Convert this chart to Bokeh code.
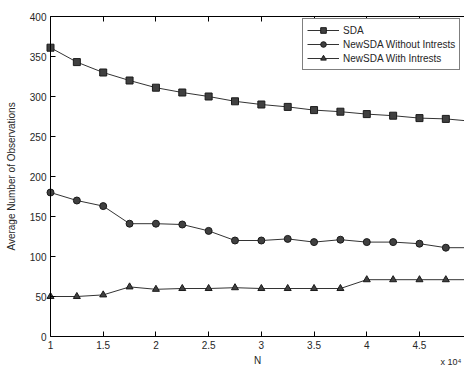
from bokeh.plotting import figure
from bokeh.models import (Range1d, LinearAxis, FixedTicker, Legend, LegendItem, Label,
                          CustomJSTickFormatter)
from bokeh.embed import file_html
from bokeh.resources import INLINE

# ---- data ----
n_vals = [1, 1.25, 1.5, 1.75, 2, 2.25, 2.5, 2.75, 3, 3.25, 3.5, 3.75, 4, 4.25, 4.5, 4.75, 5]
sda = [361, 343, 330, 320, 311, 305, 300, 294, 290, 287, 283, 281, 278, 276, 273, 272, 269]
new_without = [180, 170, 163, 141, 141, 140, 132, 120, 120, 122, 118, 121, 118, 118, 116, 111, 111]
new_with = [50, 50, 52, 62, 59, 60, 60, 61, 60, 60, 60, 60, 71, 71, 71, 71, 71]
x_ticks = [1, 1.5, 2, 2.5, 3, 3.5, 4, 4.5, 5]
y_ticks = [0, 50, 100, 150, 200, 250, 300, 350, 400]

FONT = "Liberation Sans"
TXT = "#262626"

p = figure(width=464, height=367, output_backend="svg", toolbar_location=None,
           x_range=Range1d(0.5257, 4.927), y_range=Range1d(-38.75, 420),
           min_border_left=0, min_border_right=0, min_border_top=0, min_border_bottom=0,
           x_axis_label="N", y_axis_label="Average Number of Observations")
p.outline_line_color = None
p.xgrid.visible = False
p.ygrid.visible = False
p.background_fill_color = "white"
p.border_fill_color = "white"

for ax in (p.xaxis[0], p.yaxis[0]):
    ax.major_tick_in = 5
    ax.major_tick_out = 0
    ax.minor_tick_line_color = None
    ax.axis_line_color = "black"
    ax.major_tick_line_color = "black"
    ax.major_label_text_font = FONT
    ax.major_label_text_font_size = "10px"
    ax.major_label_text_color = TXT
    ax.axis_label_text_font = FONT
    ax.axis_label_text_font_size = "10px"
    ax.axis_label_text_font_style = "normal"
    ax.axis_label_text_color = TXT
    ax.major_label_standoff = 4

p.xaxis[0].ticker = FixedTicker(ticks=x_ticks)
p.xaxis[0].fixed_location = 0
p.xaxis[0].bounds = (1, 5)
p.yaxis[0].ticker = FixedTicker(ticks=y_ticks)
p.yaxis[0].fixed_location = 1
p.yaxis[0].bounds = (0, 400)
p.xaxis[0].axis_label_standoff = 3
p.yaxis[0].axis_label_standoff = 10

top = LinearAxis(ticker=FixedTicker(ticks=x_ticks), major_tick_in=5, major_tick_out=0,
                 minor_tick_line_color=None, major_label_text_font_size="10px",
                 formatter=CustomJSTickFormatter(code="return ''"), bounds=(1, 5),
                 fixed_location=400, major_label_standoff=0, axis_line_color="black")
p.add_layout(top, "above")

LC = "#333333"
r1 = p.line(n_vals, sda, line_color=LC, line_width=1)
m1 = p.scatter(n_vals, sda, marker="square", size=7, fill_color="#404040", line_color="#1a1a1a")
r2 = p.line(n_vals, new_without, line_color=LC, line_width=1)
m2 = p.scatter(n_vals, new_without, marker="circle", size=7, fill_color="#404040", line_color="#1a1a1a")
r3 = p.line(n_vals, new_with, line_color=LC, line_width=1)
m3 = p.scatter(n_vals, new_with, marker="triangle", size=7, fill_color="#404040", line_color="#1a1a1a")

legend = Legend(items=[
    LegendItem(label="SDA", renderers=[r1, m1]),
    LegendItem(label="NewSDA Without Intrests", renderers=[r2, m2]),
    LegendItem(label="NewSDA With Intrests", renderers=[r3, m3]),
], margin=0)
legend.label_text_font = FONT
legend.label_text_font_size = "10px"
legend.label_text_color = TXT
legend.label_height = 14
legend.glyph_height = 14
legend.glyph_width = 32
legend.label_standoff = 4
legend.spacing = 0
legend.padding = 4
legend.border_line_color = "black"
legend.border_line_width = 1
legend.background_fill_alpha = 1
legend.location = (302, 297)
p.add_layout(legend, "center")

exp_label = Label(x=4.70, y=-37.5, text="x 10⁴",
                  text_font=FONT, text_font_size="9px", text_color=TXT, text_baseline="bottom")
p.add_layout(exp_label)

open("out.html", "w").write(file_html(p, INLINE))
